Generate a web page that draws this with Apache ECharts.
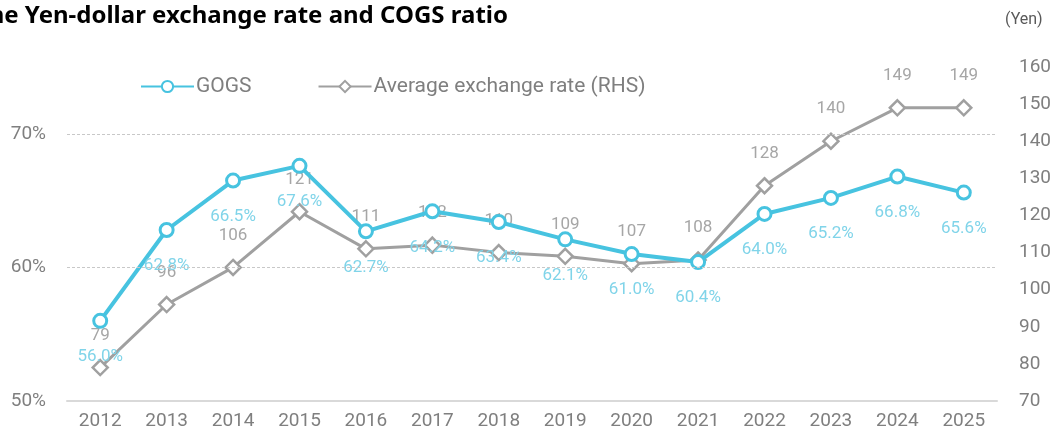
<!DOCTYPE html>
<html>
<head>
<meta charset="utf-8">
<script src="https://cdn.jsdelivr.net/npm/echarts@6/dist/echarts.min.js"></script>
<style>
html,body{margin:0;padding:0;background:#fff;}
#chart{width:1060px;height:432px;}
</style>
</head>
<body>
<div id="chart"></div>
<script>
var years = ['2012','2013','2014','2015','2016','2017','2018','2019','2020','2021','2022','2023','2024','2025'];
var cogsRatio = [56.0, 62.8, 66.5, 67.6, 62.7, 64.2, 63.4, 62.1, 61.0, 60.4, 64.0, 65.2, 66.8, 65.6];
var exchangeRate = [79, 96, 106, 121, 111, 112, 110, 109, 107, 108, 128, 140, 149, 149];
var leftTicks = [50, 60, 70];
var titleText = 'The Yen-dollar exchange rate and COGS ratio';
var seriesNames = ['GOGS', 'Average exchange rate (RHS)'];
var unitText = '(Yen)';

var BLUE = '#47C3E0', BLUE_LABEL = '#80D4E9', GRAY = '#A0A0A0', GRAY_LABEL = '#A6A6A6', AXIS_TXT = '#7F7F7F';
var FONT = 'Roboto, "Liberation Sans", sans-serif';

var chart = echarts.init(document.getElementById('chart'), null, {renderer: 'canvas'});
chart.setOption({
  animation: false,
  backgroundColor: '#fff',
  textStyle: {fontFamily: FONT},
  graphic: [
    {type: 'text', right: 552, top: 4, style: {text: titleText, font: 'bold 24px "Noto Sans", "Open Sans", sans-serif', fill: '#000'}},
    {type: 'text', left: 1005, top: 12, style: {text: unitText, font: '16px ' + FONT, fill: '#595959'}}
  ],
  legend: {
    left: 135, top: 71,
    itemWidth: 53, itemHeight: 14, itemGap: 66,
    textStyle: {fontSize: 21, color: AXIS_TXT, fontFamily: FONT, padding: [0, 0, 0, -3]},
    data: seriesNames
  },
  grid: {left: 67, right: 63, top: 67, bottom: 31},
  xAxis: {
    type: 'category', data: years, boundaryGap: true,
    axisLine: {lineStyle: {color: '#D9D9D9', width: 2}},
    axisTick: {show: false},
    axisLabel: {fontSize: 19, color: AXIS_TXT, margin: 11}
  },
  yAxis: [
    {
      type: 'value', min: 50, max: 75, interval: 10,
      axisLine: {show: false}, axisTick: {show: false}, splitLine: {show: false},
      axisLabel: {fontSize: 19, color: AXIS_TXT, margin: 21,
        formatter: function (v) { return leftTicks.indexOf(v) >= 0 ? v + '%' : ''; }}
    },
    {
      type: 'value', min: 70, max: 160, interval: 10, position: 'right',
      axisLine: {show: false}, axisTick: {show: false}, splitLine: {show: false},
      axisLabel: {fontSize: 19, color: AXIS_TXT, margin: 22}
    }
  ],
  series: [
    {
      name: seriesNames[1], type: 'line', yAxisIndex: 1, data: exchangeRate,
      symbol: 'diamond', symbolSize: 15,
      lineStyle: {color: GRAY, width: 3},
      itemStyle: {color: '#fff', borderColor: GRAY, borderWidth: 2.5},
      label: {show: true, position: 'inside', offset: [0, -32], fontSize: 17, color: GRAY_LABEL, fontFamily: FONT},
      z: 2
    },
    {
      name: seriesNames[0], type: 'line', yAxisIndex: 0, data: cogsRatio,
      symbol: 'circle', symbolSize: 13,
      lineStyle: {color: BLUE, width: 4},
      itemStyle: {color: '#fff', borderColor: BLUE, borderWidth: 3},
      label: {show: true, position: 'inside', offset: [0, 36], fontSize: 17, color: BLUE_LABEL, fontFamily: FONT,
        formatter: function (p) { return p.value.toFixed(1) + '%'; }},
      markLine: {
        silent: true, symbol: 'none', label: {show: false},
        lineStyle: {color: '#C8C8C8', type: [3, 2], width: 1},
        data: leftTicks.slice(1).map(function (v) { return {yAxis: v}; })
      },
      z: 3
    }
  ]
});
</script>
</body>
</html>
